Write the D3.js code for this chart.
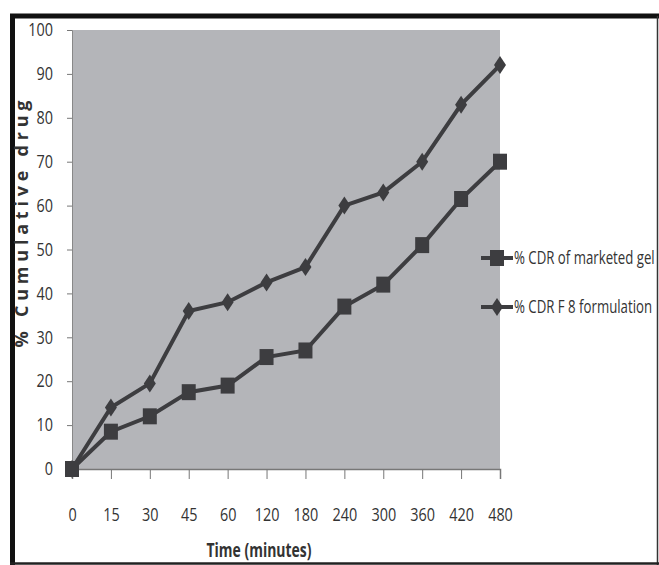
<!DOCTYPE html>
<html>
<head>
<meta charset="utf-8">
<script src="https://cdn.jsdelivr.net/npm/d3@7"></script>
<style>
  body { margin: 0; background: #fff; }
  svg { display: block; }
  text { font-family: "Open Sans", "DejaVu Sans", sans-serif; fill: #333; }
</style>
</head>
<body>
<svg id="chart" width="659" height="565"></svg>
<script>
const times = ['0', '15', '30', '45', '60', '120', '180', '240', '300', '360', '420', '480'];
const marketedGel = [0, 8.5, 12, 17.5, 19, 25.5, 27, 37, 42, 51, 61.5, 70];
const f8Formulation = [0, 14, 19.5, 36, 38, 42.5, 46, 60, 63, 70, 83, 92];
const yTicks = [0, 10, 20, 30, 40, 50, 60, 70, 80, 90, 100];
const seriesNames = ['% CDR of marketed gel', '% CDR F 8 formulation'];

const svg = d3.select('#chart');
const plotLeft = 72, plotRight = 500, plotTop = 30, plotBottom = 469;
const ink = '#3d3d40';

// squeeze a text so it looks like a narrow font
function narrow(sel, k) {
  sel.each(function() {
    const w = this.getComputedTextLength();
    d3.select(this).attr('textLength', w * k).attr('lengthAdjust', 'spacingAndGlyphs');
  });
}

// frame round the picture
svg.append('line').attr('x1', 10).attr('x2', 659).attr('y1', 16).attr('y2', 16)
  .attr('stroke', '#111').attr('stroke-width', 5);
svg.append('line').attr('x1', 12.5).attr('x2', 12.5).attr('y1', 14).attr('y2', 565)
  .attr('stroke', '#111').attr('stroke-width', 5);
svg.append('line').attr('x1', 657.5).attr('x2', 657.5).attr('y1', 16).attr('y2', 565)
  .attr('stroke', '#333').attr('stroke-width', 1.5);
svg.append('line').attr('x1', 10).attr('x2', 659).attr('y1', 563.5).attr('y2', 563.5)
  .attr('stroke', '#222').attr('stroke-width', 2.5);

const x = d3.scalePoint().domain(times).range([plotLeft, plotRight]);
const y = d3.scaleLinear().domain([0, 100]).range([plotBottom, plotTop]);

svg.append('rect').attr('x', plotLeft).attr('y', plotTop)
  .attr('width', plotRight - plotLeft).attr('height', plotBottom - plotTop)
  .attr('fill', '#b4b5b9');

//y axis
const yAxis = svg.append('g').attr('transform', 'translate(' + plotLeft + ',0)')
  .call(d3.axisLeft(y).tickValues(yTicks).tickSize(5).tickPadding(14));
yAxis.select('.domain').attr('stroke', '#888');
yAxis.selectAll('.tick line').attr('stroke', '#777');
yAxis.selectAll('.tick text').attr('font-size', 18).attr('fill', '#333')
  .attr('font-family', '"Open Sans", "DejaVu Sans", sans-serif')
  .call(narrow, 0.8);

//x axis
const xAxis = svg.append('g').attr('transform', 'translate(0,' + plotBottom + ')')
  .call(d3.axisBottom(x).tickSize(10).tickPadding(29));
xAxis.select('.domain').attr('stroke', '#777').attr('stroke-width', 1.5);
xAxis.selectAll('.tick line').attr('stroke', '#777');
xAxis.selectAll('.tick text').attr('font-size', 18).attr('fill', '#333')
  .attr('font-family', '"Open Sans", "DejaVu Sans", sans-serif')
  .call(narrow, 0.8);

svg.append('text').attr('x', 259).attr('y', 557).attr('text-anchor', 'middle')
  .attr('font-size', 19).attr('font-weight', 'bold')
  .attr('textLength', 105).attr('lengthAdjust', 'spacingAndGlyphs')
  .text('Time (minutes)');

svg.append('text')
  .attr('transform', 'translate(28,224) rotate(-90)')
  .attr('text-anchor', 'middle').attr('font-size', 18).attr('font-weight', 'bold')
  .attr('font-family', '"DejaVu Sans", sans-serif')
  .attr('textLength', 247).attr('lengthAdjust', 'spacing')
  .text('% Cumulative drug');

const line = d3.line().x((d, i) => x(times[i])).y(d => y(d));

function drawSeries(values, marker) {
  svg.append('path').datum(values).attr('d', line)
    .attr('fill', 'none').attr('stroke', ink).attr('stroke-width', 4);
  svg.append('g').selectAll('path').data(values).join('path')
    .attr('transform', (d, i) => 'translate(' + x(times[i]) + ',' + y(d) + ')')
    .attr('d', marker).attr('fill', ink);
}

const square = 'M-7,-8H7V8H-7Z';
const diamond = 'M0,-9L6,0L0,9L-6,0Z';
drawSeries(f8Formulation, diamond);
drawSeries(marketedGel, square);

// legend
const legend = svg.append('g');
[[square, 258], [diamond, 307]].forEach((m, i) => {
  legend.append('line').attr('x1', 481).attr('x2', 513).attr('y1', m[1]).attr('y2', m[1])
    .attr('stroke', ink).attr('stroke-width', 4);
  legend.append('path').attr('transform', 'translate(497,' + m[1] + ')').attr('d', m[0]).attr('fill', ink);
  legend.append('text').attr('transform', 'translate(514,' + (m[1] + 6) + ') scale(0.735,1)')
    .attr('font-size', 18)
    .text(seriesNames[i]);
});
</script>
</body>
</html>
